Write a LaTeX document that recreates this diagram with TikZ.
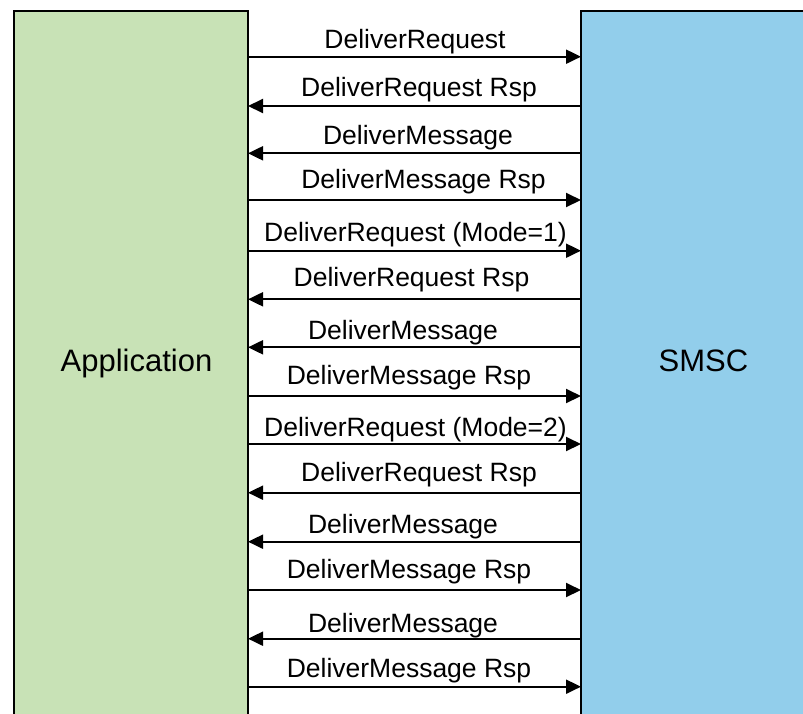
\documentclass[tikz,border=0pt]{standalone}
\usepackage{fontspec}
\setmainfont{Liberation Sans}
\usetikzlibrary{arrows.meta}
\definecolor{appgreen}{RGB}{200,226,182}
\definecolor{smscblue}{RGB}{146,206,235}
\tikzset{
  party/.style={draw=black, line width=2pt, outer sep=0pt, inner sep=0pt,
    rectangle, anchor=north west, minimum height=760pt},
  boxlbl/.style={font=\fontsize{31}{36}\selectfont, inner sep=0pt, anchor=base},
  lbl/.style={font=\fontsize{26.5}{31}\selectfont, inner sep=0pt, anchor=base},
  msgr/.style={line width=2pt, -{Triangle[length=15pt,width=14pt]}},
  msgl/.style={line width=2pt, {Triangle[length=15pt,width=14pt]}-},
}
\begin{document}
\begin{tikzpicture}[x=1pt, y=-1pt]
  \useasboundingbox (0,0) rectangle (803,713);
  \clip (0,0) rectangle (803,713);
  % the two parties
  \node[party, fill=appgreen, minimum width=234pt] (app) at (14,11) {};
  \node[party, fill=smscblue, minimum width=300pt] (smsc) at (581,11) {};
  \node[boxlbl] (applbl) at (136.5,371.7) {Application};
  \node[boxlbl] (smsclbl) at (703.5,371.7) {SMSC};
  % message exchange: y / direction / label x / label baseline / text
  \foreach [count=\i] \y/\d/\cx/\by/\t in {
      56.7/r/415/48/DeliverRequest,
      106/l/419/96.7/DeliverRequest Rsp,
      153.3/l/418/144/DeliverMessage,
      200/r/423.5/188/DeliverMessage Rsp,
      250.7/r/415.5/241.7/DeliverRequest (Mode=1),
      299.3/l/411.5/286/DeliverRequest Rsp,
      347.3/l/403/339/DeliverMessage,
      396/r/409/384/DeliverMessage Rsp,
      444/r/415.5/436/DeliverRequest (Mode=2),
      492.7/l/419/481.7/DeliverRequest Rsp,
      541.7/l/403/533/DeliverMessage,
      590/r/409/578/DeliverMessage Rsp,
      638.7/l/403/632/DeliverMessage,
      686.7/r/409/677/DeliverMessage Rsp} {
    \path (0,\y) coordinate (y\i);
    \coordinate (L\i) at (app.east |- y\i);
    \coordinate (R\i) at (smsc.west |- y\i);
    \draw[msg\d] (L\i) -- (R\i);
    \node[lbl] (t\i) at (\cx,\by) {\t};
  }
\end{tikzpicture}
\end{document}
